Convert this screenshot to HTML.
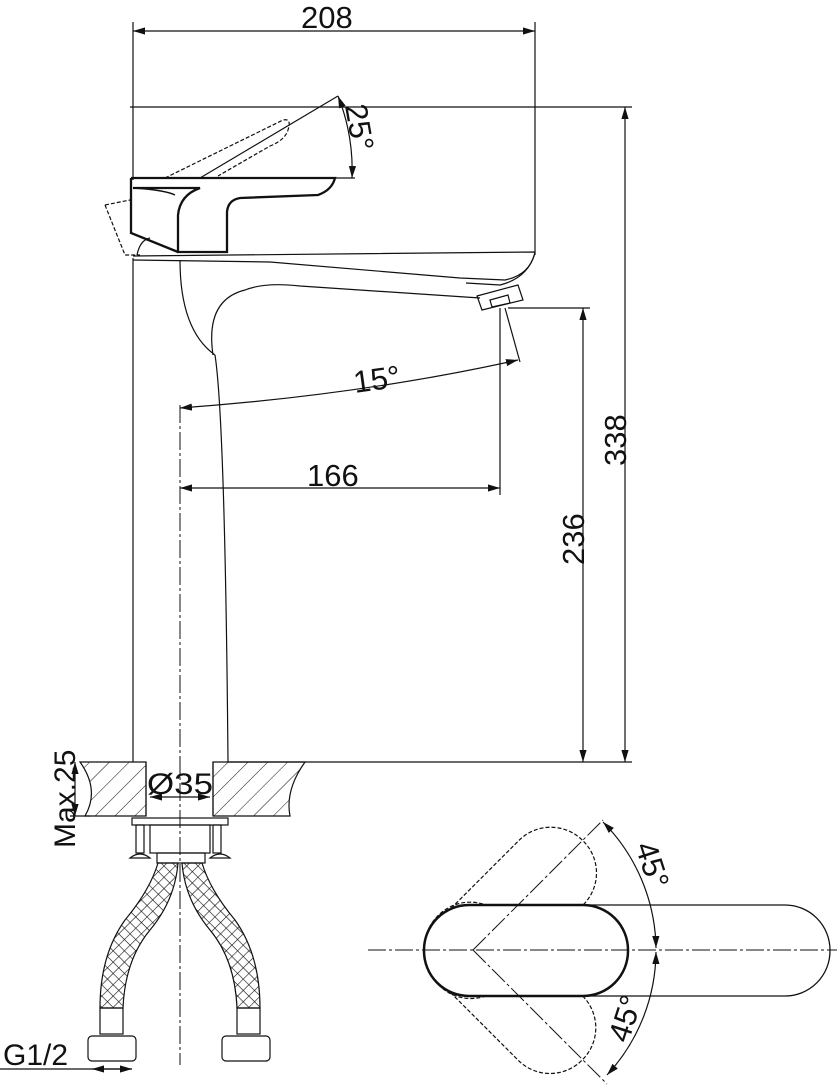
<!DOCTYPE html>
<html><head><meta charset="utf-8"><style>
html,body{margin:0;padding:0;background:#fff;}
svg{display:block;}
text{font-family:"Liberation Sans",sans-serif;fill:#111;}
</style></head><body>
<svg width="837" height="1087" viewBox="0 0 837 1087" xmlns="http://www.w3.org/2000/svg">
<defs>
<marker id="a" viewBox="0 0 10 6" refX="10" refY="3" markerWidth="10" markerHeight="6" orient="auto-start-reverse"><path d="M0,0 L10,3 L0,6 z" fill="#111"/></marker>
<pattern id="h" width="14" height="14" patternUnits="userSpaceOnUse" patternTransform="rotate(45)"><line x1="0" y1="0" x2="0" y2="14" stroke="#111" stroke-width="1"/></pattern>
<pattern id="x" width="8" height="8" patternUnits="userSpaceOnUse" patternTransform="rotate(45)"><path d="M0 0V8M0 0H8" stroke="#111" stroke-width="1.2"/></pattern>
</defs>
<g fill="none" stroke="#111" stroke-width="1.2">
<line x1="133" y1="22" x2="133" y2="180"/>
<line x1="535" y1="22" x2="535" y2="255"/>
<line x1="133" y1="31" x2="535" y2="31" marker-start="url(#a)" marker-end="url(#a)"/>
<line x1="130" y1="107" x2="632" y2="107"/>
<line x1="625" y1="107" x2="625" y2="762" marker-start="url(#a)" marker-end="url(#a)"/>
<line x1="508" y1="308" x2="590" y2="308"/>
<line x1="583" y1="308" x2="583" y2="762" marker-start="url(#a)" marker-end="url(#a)"/>
<line x1="228" y1="762" x2="632" y2="762"/>
<line x1="200" y1="178" x2="338" y2="96"/>
<path d="M338 96 A200 200 0 0 1 352 178" marker-start="url(#a)" marker-end="url(#a)"/>
<line x1="335" y1="178" x2="355" y2="178"/>
<path d="M165 178 L283 120 Q292 118 288 130 Q285 140 270 146 L218 176" stroke-dasharray="4,2"/>
<path d="M105 205 L130 200 M105 205 L125 255 L140 255" stroke-dasharray="4,2"/>
<path d="M131 178 L335 178 Q332 190 318 195 L240 198 Q228 200 227 212 L227 252 L178 252 L178 215 Q180 195 200 188 L133 188" stroke-width="2.3"/>
<path d="M131 178 L131 233 L178 252" stroke-width="2.3"/>
<path d="M133 188 Q165 190 175 195" stroke-width="1.5"/>
<path d="M137 255 Q140 240 150 238"/>
<path d="M133 256 L535 252 Q530 275 505 280 L460 278 L270 262 L133 260"/>
<path d="M535 253 Q528 278 500 285 L466 283"/>
<path d="M213 355 Q205 300 245 290 Q265 282 300 286 L480 298"/>
<path d="M180 260 Q180 330 215 355"/>
<path d="M477 296 L518 285 L523 300 L482 310 z"/>
<path d="M490 300 L508 295 L510 303 L492 307 z"/>
<line x1="133" y1="258" x2="133" y2="762"/>
<path d="M215 355 Q225 420 228 762"/>
<line x1="180" y1="405" x2="180" y2="1065" stroke-dasharray="18,3,3,3" stroke-width="1"/>
<line x1="505" y1="308" x2="520" y2="362"/>
<line x1="500" y1="308" x2="500" y2="495"/>
<path d="M180 408 Q360 395 518 360" marker-start="url(#a)" marker-end="url(#a)"/>
<line x1="180" y1="488" x2="500" y2="488" marker-start="url(#a)" marker-end="url(#a)"/>
<path d="M80 762 L146 762 L146 816 L85 816 Q100 790 80 762 z" fill="url(#h)"/>
<path d="M213 762 L305 762 Q285 790 290 816 L213 816 z" fill="url(#h)"/>
<line x1="146" y1="762" x2="146" y2="816"/>
<line x1="213" y1="762" x2="213" y2="816"/>
<line x1="75" y1="762" x2="75" y2="816" marker-start="url(#a)" marker-end="url(#a)"/>
<line x1="70" y1="816" x2="90" y2="816"/>
<line x1="150" y1="797" x2="210" y2="797" marker-start="url(#a)" marker-end="url(#a)"/>
<rect x="132" y="818" width="96" height="7"/>
<rect x="150" y="825" width="60" height="28"/>
<rect x="136" y="825" width="8" height="28"/>
<rect x="213" y="825" width="8" height="28"/>
<path d="M130 858 Q140 850 150 858 z M210 858 Q220 850 230 858 z"/>
<rect x="157" y="853" width="48" height="10"/>
<path d="M158 863 L178 863 Q175 900 150 930 Q125 960 123 1008 L100 1008 Q100 955 125 920 Q150 890 158 863 z" fill="url(#x)"/>
<path d="M182 863 L202 863 Q210 890 235 920 Q260 955 260 1008 L237 1008 Q235 960 210 930 Q185 900 182 863 z" fill="url(#x)"/>
<rect x="100" y="1008" width="23" height="26"/>
<rect x="237" y="1008" width="23" height="26"/>
<rect x="88" y="1036" width="48" height="25" rx="4"/>
<rect x="222" y="1036" width="48" height="25" rx="4"/>
<line x1="0" y1="1069" x2="132" y2="1069"/>
<line x1="92" y1="1069" x2="132" y2="1069" marker-start="url(#a)" marker-end="url(#a)"/>
<!-- top view -->
<rect x="424" y="905" width="204" height="91" rx="45" stroke-dasharray="4,2" transform="rotate(-45 473 950)"/>
<rect x="424" y="905" width="204" height="91" rx="45" stroke-dasharray="4,2" transform="rotate(45 473 950)"/>
<rect x="424" y="905" width="406" height="91" rx="45" stroke-width="1.3" fill="#fff"/>
<rect x="424" y="905" width="204" height="91" rx="45" stroke-width="2.5"/>
<line x1="368" y1="950" x2="837" y2="950" stroke-dasharray="18,3,3,3" stroke-width="1"/>
<line x1="473" y1="950" x2="603" y2="820" stroke-dasharray="18,3,3,3" stroke-width="1"/>
<line x1="473" y1="950" x2="607" y2="1084" stroke-dasharray="18,3,3,3" stroke-width="1"/>
<path d="M603 822 A183 183 0 0 1 656 948" marker-start="url(#a)" marker-end="url(#a)"/>
<path d="M656 952 A183 183 0 0 1 607 1075" marker-start="url(#a)" marker-end="url(#a)"/>
</g>
<text x="301" y="28" font-size="31">208</text>
<text transform="translate(626 466) rotate(-90)" font-size="31">338</text>
<text transform="translate(584 565) rotate(-90)" font-size="31">236</text>
<text transform="translate(345 106) rotate(80)" font-size="31">25°</text>
<text transform="translate(355 393) rotate(-8)" font-size="31">15°</text>
<text x="307" y="486" font-size="31">166</text>
<text x="147" y="794" font-size="30" textLength="66" lengthAdjust="spacingAndGlyphs">Ø35</text>
<text transform="translate(75 848) rotate(-90)" font-size="30">Max.25</text>
<text x="3" y="1065" font-size="30">G1/2</text>
<text transform="translate(635 846) rotate(72)" font-size="31">45°</text>
<text transform="translate(628 1044) rotate(-72)" font-size="31">45°</text>
</svg>
</body></html>
